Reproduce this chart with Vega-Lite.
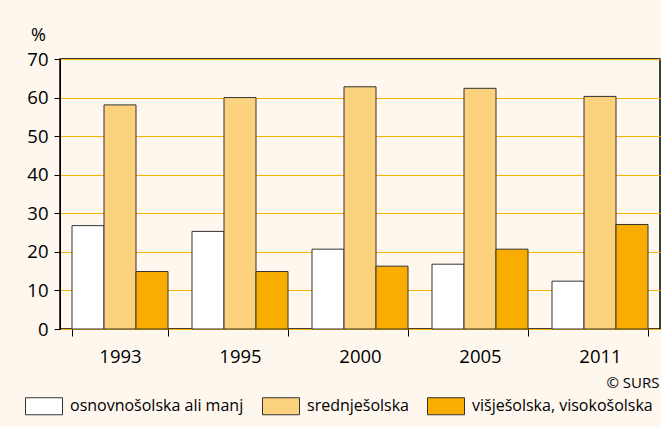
{
  "$schema": "https://vega.github.io/schema/vega-lite/v6.json",
  "width": 600,
  "height": 270,
  "autosize": "none",
  "padding": {"left": 60, "top": 59, "right": 1, "bottom": 98},
  "background": "#FEF7EE",
  "config": {
    "font": "Open Sans",
    "view": {"stroke": "#000000", "strokeWidth": 1.5},
    "axis": {"labelFont": "Open Sans", "titleFont": "Open Sans", "labelColor": "#000000", "titleColor": "#000000"}
  },
  "data": {
    "values": [
      {"leto": "1993", "izobrazba": "osnovnošolska ali manj", "delez": 26.8},
      {"leto": "1993", "izobrazba": "srednješolska", "delez": 58.1},
      {"leto": "1993", "izobrazba": "višješolska, visokošolska", "delez": 14.9},
      {"leto": "1995", "izobrazba": "osnovnošolska ali manj", "delez": 25.3},
      {"leto": "1995", "izobrazba": "srednješolska", "delez": 60.0},
      {"leto": "1995", "izobrazba": "višješolska, visokošolska", "delez": 14.9},
      {"leto": "2000", "izobrazba": "osnovnošolska ali manj", "delez": 20.7},
      {"leto": "2000", "izobrazba": "srednješolska", "delez": 62.8},
      {"leto": "2000", "izobrazba": "višješolska, visokošolska", "delez": 16.3},
      {"leto": "2005", "izobrazba": "osnovnošolska ali manj", "delez": 16.8},
      {"leto": "2005", "izobrazba": "srednješolska", "delez": 62.4},
      {"leto": "2005", "izobrazba": "višješolska, visokošolska", "delez": 20.7},
      {"leto": "2011", "izobrazba": "osnovnošolska ali manj", "delez": 12.4},
      {"leto": "2011", "izobrazba": "srednješolska", "delez": 60.3},
      {"leto": "2011", "izobrazba": "višješolska, visokošolska", "delez": 27.1}
    ]
  },
  "mark": {"type": "bar", "stroke": "#333333", "strokeWidth": 1},
  "encoding": {
    "x": {
      "field": "leto",
      "type": "nominal",
      "scale": {"paddingInner": 0.2, "paddingOuter": 0.1},
      "axis": {
        "title": "© SURS",
        "titleFontSize": 15,
        "titleFontWeight": "normal",
        "titleAlign": "right",
        "titleBaseline": "alphabetic",
        "titleAnchor": null,
        "titleX": 599,
        "titleY": 58,
        "labelAngle": 0,
        "labelFontSize": 18.5,
        "labelPadding": 11,
        "tickBand": "extent",
        "tickSize": 7,
        "tickColor": "#000000",
        "domain": false,
        "grid": false
      }
    },
    "xOffset": {
      "field": "izobrazba",
      "type": "nominal",
      "sort": ["osnovnošolska ali manj", "srednješolska", "višješolska, visokošolska"],
      "scale": {"paddingInner": 0, "paddingOuter": 0}
    },
    "y": {
      "field": "delez",
      "type": "quantitative",
      "scale": {"domain": [0, 70]},
      "axis": {
        "title": "%",
        "titleAngle": 0,
        "titleFontSize": 18,
        "titleFontWeight": "normal",
        "titleAlign": "center",
        "titleBaseline": "alphabetic",
        "titleX": -22,
        "titleY": -19,
        "values": [0, 10, 20, 30, 40, 50, 60, 70],
        "labelFontSize": 18.5,
        "labelPadding": 6,
        "tickSize": 6,
        "tickColor": "#000000",
        "domainColor": "#000000",
        "gridColor": "#F7B400",
        "gridWidth": 1.2
      }
    },
    "color": {
      "field": "izobrazba",
      "type": "nominal",
      "scale": {
        "domain": ["osnovnošolska ali manj", "srednješolska", "višješolska, visokošolska"],
        "range": ["#FFFFFF", "#FDD27F", "#F8AD00"]
      },
      "legend": {
        "title": null,
        "orient": "none",
        "direction": "horizontal",
        "legendX": -35,
        "legendY": 328,
        "symbolType": "M-1,-0.46H1V0.46H-1Z",
        "symbolSize": 1369,
        "symbolStrokeColor": "#333333",
        "symbolStrokeWidth": 1,
        "symbolOpacity": 1,
        "labelFontSize": 16,
        "labelColor": "#000000",
        "labelOffset": 7,
        "labelLimit": 300,
        "columnPadding": 16
      }
    }
  }
}
